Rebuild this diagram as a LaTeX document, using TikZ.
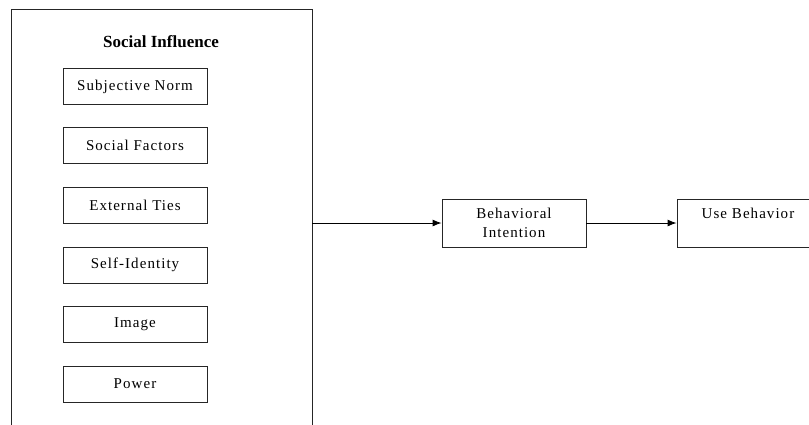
\documentclass[tikz,border=0pt]{standalone}
\usepackage{fontspec}
\setmainfont{Liberation Serif}
\newfontfamily\boxfont{Liberation Serif}[LetterSpace=7]
\usetikzlibrary{arrows.meta}
\begin{document}
\begin{tikzpicture}[x=1bp,y=-1bp,
  frame/.style={draw=black!85,line width=0.9bp,rectangle,inner sep=0pt},
  item/.style={frame,minimum width=144bp,minimum height=36bp,font=\fontsize{15bp}{17bp}\boxfont},
  conn/.style={draw=black,line width=0.9bp,-{Latex[length=9bp,width=7bp]}}]
\useasboundingbox[fill=white] (0,0) rectangle (809,424);
\clip (0,0) rectangle (809,424);
\node[frame,minimum width=301bp,minimum height=430bp] (si) at (161.5,224) {};
\node[font=\fontsize{17bp}{19bp}\selectfont\bfseries] (title) at (161,42) {Social Influence};
\node[item] (sn) at (135,86.5) {Subjective Norm};
\node[item] (sf) at (135,145.5) {Social Factors};
\node[item] (et) at (135,205) {External Ties};
\node[item] (sid) at (135,265) {Self-Identity};
\node[item] (im) at (135,324) {Image};
\node[item] (pw) at (135,384) {Power};
\node[frame,minimum width=144bp,minimum height=48bp,align=center,font=\fontsize{15bp}{19bp}\boxfont] (bi) at (514,223) {Behavioral\\Intention};
\node[frame,minimum width=150bp,minimum height=48bp] (ub) at (752,223) {};
\node[font=\fontsize{15bp}{17bp}\boxfont,anchor=base] (ubt) at (748,218) {Use Behavior};
\draw[conn] (bi.west -| si.east) -- (bi.west);
\draw[conn] (bi.east) -- (ub.west);
\end{tikzpicture}
\end{document}
